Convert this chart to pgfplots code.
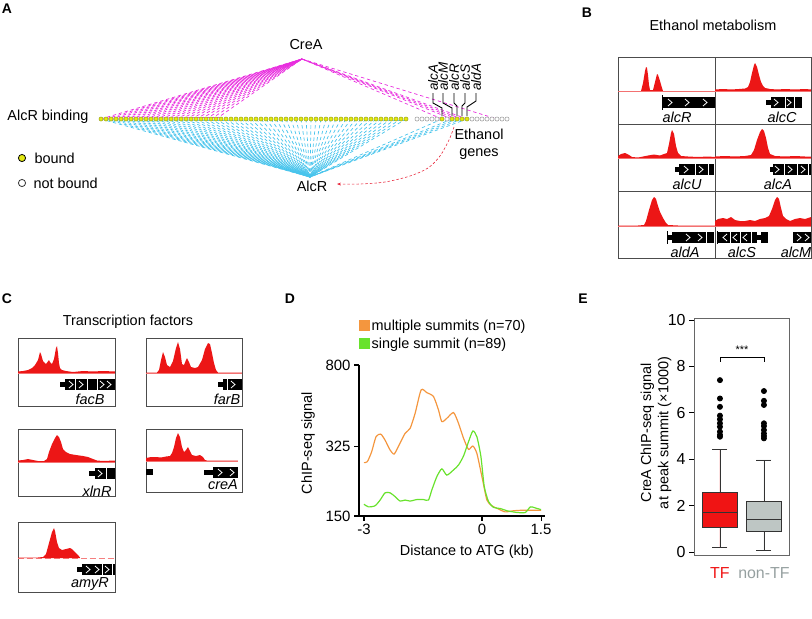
\documentclass[border=0pt]{standalone}
\usepackage{pgfplots}
\pgfplotsset{compat=1.18}
\usepackage{pgfplotstable}
\usepgfplotslibrary{statistics}
\usetikzlibrary{arrows.meta}
\usepackage{fontspec}
\setmainfont{Liberation Sans}

\definecolor{magA}{RGB}{232,45,222}
\definecolor{cyA}{RGB}{72,196,236}
\definecolor{yelA}{RGB}{226,232,18}
\definecolor{yelB}{RGB}{140,150,20}
\definecolor{trk}{RGB}{236,22,22}
\definecolor{arrR}{RGB}{232,40,60}
\definecolor{orD}{RGB}{244,150,62}
\definecolor{grD}{RGB}{104,226,44}
\definecolor{tfred}{RGB}{240,20,20}
\definecolor{ntgray}{RGB}{190,198,196}
\definecolor{ntlab}{RGB}{150,160,160}

\newcommand{\fs}{\fontsize{14.5}{17.5}\selectfont}
\pgfplotsset{
  every axis/.append style={font=\fs},
  /pgf/number format/assume math mode=true,
  trk/.style={anchor=north west, scale only axis, xmin=0, ticks=none,
    axis line style={draw=black!70, line width=0.8pt}, clip=false},
  spoke/.style={line width=0.7pt, dash pattern=on 3.4pt off 2.8pt},
}
% gene model pieces (local track units, baseline of the signal at y=0)
\newcommand{\gbox}[2]{\addplot[fill=black, draw=none] coordinates {(#1,-6)(#2,-6)(#2,-17)(#1,-17)} -- cycle;}
\newcommand{\gthin}[2]{\addplot[fill=black, draw=none] coordinates {(#1,-9)(#2,-9)(#2,-14)(#1,-14)} -- cycle;}
\newcommand{\chev}[2]{\addplot[white, line width=0.8pt] coordinates {(#1,-8)(#2,-11.5)(#1,-15)};}
\newcommand{\rchev}[2]{\addplot[white, line width=0.8pt] coordinates {(#2,-8)(#1,-11.5)(#2,-15)};}
\newcommand{\gsep}[1]{\addplot[white, line width=0.7pt] coordinates {(#1,-6)(#1,-17)};}
\newcommand{\base}[1]{\addplot[trk!55, line width=0.5pt] coordinates {(0,0)(#1,0)};}
\newcommand{\glab}[2]{\node[rotate=90, anchor=west, inner sep=1pt, font=\itshape\fontsize{13.5}{15}\selectfont] at (axis cs:#1,92) {#2};}
\newcommand{\tname}[3]{\node[font=\fs\itshape] at (axis cs:#1,#2) {#3};}

% genes of panel A, in pixel units of the figure
\pgfplotstableread{
x y
101 119
106 119
111 119
116 119
121 119
126 119
131 119
136 119
141 119
146 119
151 119
156 119
161 119
166 119
171 119
176 119
181 119
186 119
191 119
196 119
201 119
206 119
211 119
216 119
221 119
226 119
231 119
236 119
241 119
246 119
251 119
256 119
261 119
266 119
271 119
276 119
281 119
286 119
291 119
296 119
301 119
306 119
311 119
316 119
321 119
326 119
331 119
336 119
341 119
346 119
351 119
356 119
361 119
366 119
371 119
376 119
381 119
386 119
391 119
396 119
401 119
406 119
}\genesL
\pgfplotstableread{
x y
442 119
452 119
457 119
462 119
467 119
}\genesE
\pgfplotstableread{
x y
417 119
422 119
427 119
432 119
437 119
447 119
472 119
477 119
482 119
487 119
492 119
497 119
502 119
507 119
}\genesU

\begin{document}
\begin{tikzpicture}
\useasboundingbox (0,0) rectangle (812bp,-619bp);

% ---------- canvas: panel A and the headings ----------
\begin{axis}[at={(0bp,0bp)}, anchor=north west, scale only axis,
  width=812bp, height=619bp, xmin=0, xmax=812, ymin=0, ymax=619,
  y dir=reverse, hide axis, clip=false]
\addplot[magA, spoke, quiver={u={302-x}, v={59-y}}, restrict x to domain=100:217] table {\genesL};
\addplot[magA, spoke, quiver={u={302-x}, v={59-y}}] table {\genesE};
\addplot[magA, spoke] coordinates {(302,59)(497,119)};
\addplot[cyA, spoke, quiver={u={310-x}, v={177-y}}] table {\genesL};
\addplot[cyA, spoke, quiver={u={310-x}, v={177-y}}] table {\genesE};
\addplot[arrR, line width=0.6pt, dash pattern=on 2.5pt off 2pt, smooth, -{Stealth[length=4pt,width=3pt]}]
  coordinates {(454,127)(449,140)(440,156)(428,168)(410,176)(385,182)(360,184)(337,184)};
\addplot[only marks, mark=*, mark size=2.1pt, mark options={fill=white, draw=gray, line width=0.4pt}] table {\genesU};
\addplot[only marks, mark=*, mark size=2.1pt, mark options={fill=yelA, draw=yelB, line width=0.4pt}] table {\genesL};
\addplot[only marks, mark=*, mark size=2.1pt, mark options={fill=yelA, draw=yelB, line width=0.4pt}] table {\genesE};
% leaders of the ethanol genes
\addplot[black, line width=0.9pt] coordinates {(433,93)(433,103)(442,108)(442,116)};
\addplot[black, line width=0.9pt] coordinates {(443,93)(443,103)(452,108)(452,116)};
\addplot[black, line width=0.9pt] coordinates {(454,93)(454,103)(457,106)(457,116)};
\addplot[black, line width=0.9pt] coordinates {(465,93)(465,103)(462,106)(462,116)};
\addplot[black, line width=0.9pt] coordinates {(476,93)(476,101)(467,107)(467,116)};
% legend of panel A
\addplot[only marks, mark=*, mark size=3.6pt, mark options={fill=yelA, draw=black, line width=0.8pt}] coordinates {(22,158)};
\addplot[only marks, mark=*, mark size=3.6pt, mark options={fill=white, draw=black!80, line width=0.8pt}] coordinates {(22,183)};

\node[font=\bfseries\fontsize{14}{16}\selectfont] at (axis cs:7,9) {A};
\node at (axis cs:306,45) {CreA};
\node at (axis cs:48,117) {AlcR binding};
\node[anchor=west] at (axis cs:31,158) {bound};
\node[anchor=west] at (axis cs:30,183) {not bound};
\node at (axis cs:312,186) {AlcR};
\node[align=center, inner sep=0pt] at (axis cs:479,144) {Ethanol\\genes};
\glab{433}{alcA}
\glab{443}{alcM}
\glab{454}{alcR}
\glab{465}{alcS}
\glab{476}{aldA}

\node[font=\bfseries\fontsize{14}{16}\selectfont] at (axis cs:587,13) {B};
\node at (axis cs:713,25) {Ethanol metabolism};
\node[font=\bfseries\fontsize{14}{16}\selectfont] at (axis cs:7,299) {C};
\node at (axis cs:128,322) {Transcription factors};
\node[font=\bfseries\fontsize{14}{16}\selectfont] at (axis cs:290,299) {D};
\node[font=\bfseries\fontsize{14}{16}\selectfont] at (axis cs:583,299) {E};
\end{axis}

% ---------- panel B ----------
\begin{axis}[trk, at={(618bp,-57bp)}, width=97bp, height=67bp, xmax=97, ymin=-33, ymax=34]
\base{97}
\addplot[draw=none, fill=trk] coordinates {(0,0)(23,0)(25,8)(27,20)(28,24)(29,23)(30,16)(31,6)(32,1)(35,1)(36,5)(38,13)(39,17)(40,16)(42,10)(44,3)(45,0)(97,0)} -- cycle;
\addplot[black, line width=0.8pt] coordinates {(44,-4)(44,-19)};
\gbox{45}{97}\chev{50}{54}\chev{67}{71}\chev{85}{89}
\tname{59}{-26}{alcR}
\end{axis}
\begin{axis}[trk, at={(715bp,-57bp)}, width=96bp, height=67bp, xmax=96, ymin=-33, ymax=34]
\base{96}
\addplot[draw=none, fill=trk] coordinates {(0,0)(0,1.5)(8,2)(16,1.5)(24,2)(30,2.5)(33,4)(35,9)(37,18)(39,26)(40,28)(42,24)(44,16)(46,9)(48,5)(50,3)(55,2)(62,1.5)(70,2)(80,1.5)(90,2)(96,1.5)(96,0)} -- cycle;
\gthin{51}{56}\gbox{56}{87}\chev{59}{63}\gsep{70}\chev{72}{76}\gsep{79}
\tname{67}{-26}{alcC}
\end{axis}
\begin{axis}[trk, at={(618bp,-124bp)}, width=97bp, height=67bp, xmax=97, ymin=-33, ymax=34]
\base{97}
\addplot[draw=none, fill=trk] coordinates {(0,0)(0,2)(3,4)(7,5)(11,3)(14,1)(20,0.5)(25,1.5)(30,2.5)(36,3.5)(42,2.5)(46,4)(49,5)(51,14)(53,25)(54,28)(56,24)(58,12)(60,5)(63,2)(70,1.5)(80,1)(90,1.5)(97,1)(97,0)} -- cycle;
\gthin{57}{61}\gbox{61}{96}\chev{66}{70}\gsep{77}\chev{81}{85}\gsep{90}
\tname{69}{-26}{alcU}
\end{axis}
\begin{axis}[trk, at={(715bp,-124bp)}, width=96bp, height=67bp, xmax=96, ymin=-33, ymax=34]
\base{96}
\addplot[draw=none, fill=trk] coordinates {(0,0)(0,1.5)(10,2)(20,1.5)(30,2)(36,3)(39,8)(42,18)(45,26)(47,29)(49,27)(51,20)(53,10)(55,4)(60,2)(70,1.5)(80,2)(90,1.5)(96,1.5)(96,0)} -- cycle;
\gthin{55}{58}\gbox{58}{96}\chev{60}{64}\gsep{69}\chev{73}{77}\gsep{82}\chev{86}{90}\gsep{93}
\tname{63}{-26}{alcA}
\end{axis}
\begin{axis}[trk, at={(618bp,-191bp)}, width=97bp, height=67bp, xmax=97, ymin=-32, ymax=35]
\base{97}
\addplot[draw=none, fill=trk] coordinates {(0,0)(0,0.5)(20,0.5)(26,1)(28,5)(31,16)(34,26)(36,29)(38,27)(40,20)(42,14)(45,8)(48,3)(50,1)(60,0.5)(97,0.5)(97,0)} -- cycle;
\addplot[black, line width=0.8pt] coordinates {(49,-5)(49,-18)};
\gthin{49}{54}\gbox{54}{96}\chev{68}{72}\chev{80}{84}\gsep{88}
\tname{67}{-26}{aldA}
\end{axis}
\begin{axis}[trk, at={(715bp,-191bp)}, width=96bp, height=67bp, xmax=96, ymin=-32, ymax=35]
\base{96}
\addplot[draw=none, fill=trk] coordinates {(0,0)(0,5)(3,7)(8,8)(12,7)(16,9)(20,6)(25,5)(30,5)(35,6)(40,5)(45,7)(50,8)(54,10)(57,17)(60,26)(62,29)(64,27)(66,18)(68,10)(71,7)(75,5)(80,7)(85,8)(90,7)(96,9)(96,0)} -- cycle;
\addplot[black, line width=0.8pt] coordinates {(2,-5)(2,-18)};
\gbox{3}{42}\rchev{8}{12}\gsep{15}\rchev{18}{22}\gsep{25}\rchev{28}{32}\gsep{36}
\gthin{42}{46}\gbox{46}{53}\gbox{78}{96}\chev{82}{86}\chev{90}{94}
\tname{27}{-26}{alcS}
\tname{81}{-26}{alcM}
\end{axis}

% ---------- panel C ----------
\begin{axis}[trk, at={(18bp,-338bp)}, width=97bp, height=68bp, xmax=97, ymin=-33, ymax=35]
\base{97}
\addplot[draw=none, fill=trk] coordinates {(0,0)(0,1.5)(5,2)(10,3)(14,5)(17,8)(20,13)(22,21)(23,19)(25,12)(28,9)(31,13)(32,11)(34,9)(36,14)(38,25)(39,27)(40,20)(41,10)(42,5)(44,3)(48,2)(55,1)(65,2)(75,1.5)(85,2)(97,1.5)(97,0)} -- cycle;
\gthin{42}{47}\gbox{47}{97}\chev{51}{55}\gsep{57}\chev{61}{65}\gsep{69}\gsep{79}\chev{82}{86}\chev{89}{93}
\tname{72}{-26}{facB}
\end{axis}
\begin{axis}[trk, at={(146bp,-338bp)}, width=96bp, height=68bp, xmax=96, ymin=-33, ymax=35]
\base{96}
\addplot[draw=none, fill=trk] coordinates {(0,0)(0,0.5)(11,0.5)(13,3)(15,13)(17,21)(19,16)(21,8)(24,6)(27,12)(30,25)(32,31)(34,24)(36,9)(38,8)(40,13)(41,15)(43,11)(45,6)(49,5)(52,6)(56,13)(59,24)(62,30)(64,29)(66,20)(68,10)(70,3)(72,0.5)(96,0.5)(96,0)} -- cycle;
\gthin{72}{77}\gbox{77}{96}\gsep{81}\chev{85}{89}
\tname{81}{-26}{farB}
\end{axis}
\begin{axis}[trk, at={(18bp,-429bp)}, width=97bp, height=67bp, xmax=97, ymin=-34, ymax=33]
\base{97}
\addplot[draw=none, fill=trk] coordinates {(0,0)(0,1.5)(5,2)(10,3)(15,2)(20,1)(26,1)(29,3)(31,10)(34,18)(37,24)(39,27)(41,25)(43,20)(45,13)(48,10)(52,8)(58,7)(65,6)(70,5)(75,3)(79,1.5)(85,1)(97,1.5)(97,0)} -- cycle;
\gthin{71}{77}\gbox{77}{97}\chev{80}{84}\gsep{88}
\tname{79}{-29}{xlnR}
\end{axis}
\begin{axis}[trk, at={(146bp,-429bp)}, width=96bp, height=63bp, xmax=96, ymin=-31, ymax=32]
\base{92}
\addplot[draw=none, fill=trk] coordinates {(0,0)(0,3)(5,4)(10,4)(15,3.5)(20,4.5)(24,5)(26,8)(28,14)(30,23)(32,28)(34,24)(36,14)(38,9)(40,11)(42,14)(44,10)(46,6)(50,5)(54,6)(57,4)(59,1)(61,0.5)(92,0.5)(92,0)} -- cycle;
\addplot[fill=black, draw=none] coordinates {(0,-8)(7,-8)(7,-14)(0,-14)} -- cycle;
\gthin{58}{67}\gbox{67}{92}\chev{72}{76}\chev{84}{88}
\tname{77}{-24}{creA}
\end{axis}
\begin{axis}[trk, at={(18bp,-522bp)}, width=97bp, height=70bp, xmax=97, ymin=-34, ymax=36]
\addplot[trk!55, line width=0.5pt, dash pattern=on 6pt off 3pt] coordinates {(0,0)(97,0)};
\addplot[draw=none, fill=trk] coordinates {(0,0)(0,0.5)(20,0.5)(25,1)(28,4)(31,15)(34,26)(36,30)(37,27)(39,16)(41,10)(44,8)(48,9)(52,10)(54,9)(57,6)(60,3)(62,0.5)(62,0)} -- cycle;
\gthin{59}{64}\gbox{64}{97}\chev{68}{72}\chev{77}{81}\gsep{84}\chev{87}{91}\gsep{94}
\tname{72}{-26}{amyR}
\end{axis}

% ---------- panel D ----------
\begin{axis}[at={(359bp,-365bp)}, anchor=north west, scale only axis,
  width=186bp, height=151bp, xmin=-3.127, xmax=1.6, ymin=150, ymax=800,
  ymode=log, axis x line*=bottom, axis y line*=left,
  axis line style={-, black, line width=1.1pt},
  tick align=outside, major tick length=5bp, tick style={black, line width=1.1pt},
  xtick={-3,0,1.5}, xticklabels={-3,0,1.5},
  ytick={150,325,800}, yticklabels={150,325,800}, yminorticks=false,
  tick label style={font=\fontsize{15}{17}\selectfont},
  xlabel={Distance to ATG (kb)}, ylabel={ChIP-seq signal},
  every axis x label/.style={at={(axis description cs:0.58,-0.238)}, anchor=center},
  every axis y label/.style={at={(axis description cs:-0.274,0.483)}, rotate=90, anchor=center},
  legend style={draw=none, fill=none, at={(axis description cs:0.0,1.31)}, anchor=north west,
    row sep=3bp, inner sep=0pt, nodes={inner sep=1.5bp}},
  legend cell align=left,
  legend image code/.code={\fill[#1, draw=none] (0bp,-5.5bp) rectangle (11bp,5.5bp);},
  clip=false]
\addplot[orD, line width=1.2pt, smooth, tension=0.4] coordinates {
  (-3.000,271) (-2.915,274) (-2.805,306) (-2.695,361) (-2.576,372) (-2.465,348)
  (-2.338,312) (-2.236,298) (-2.126,324) (-1.956,375) (-1.829,396) (-1.701,468)
  (-1.548,607) (-1.404,589) (-1.234,564) (-1.107,486) (-1.022,427) (-0.895,443)
  (-0.725,472) (-0.598,419) (-0.470,355) (-0.343,314) (-0.233,326) (-0.131,300)
  (-0.003,232) (0.124,179) (0.251,168) (0.421,162) (0.591,157) (0.803,159)
  (1.058,160) (1.312,160) (1.499,160)};
\addlegendentry{multiple summits (n=70)}
\addplot[grD, line width=1.2pt, smooth, tension=0.4] coordinates {
  (-3.000,171) (-2.890,166) (-2.720,168) (-2.590,179) (-2.465,194) (-2.338,194)
  (-2.210,186) (-2.083,177) (-1.956,179) (-1.829,177) (-1.659,180) (-1.489,180)
  (-1.362,179) (-1.277,200) (-1.149,232) (-1.022,253) (-0.895,236) (-0.725,250)
  (-0.598,264) (-0.470,292) (-0.343,342) (-0.233,385) (-0.131,361) (-0.029,290)
  (0.056,208) (0.166,176) (0.294,165) (0.463,163) (0.633,159) (0.888,156)
  (1.100,156) (1.228,166) (1.355,164) (1.499,161)};
\addlegendentry{single summit (n=89)}
\end{axis}

% ---------- panel E ----------
\begin{axis}[at={(694bp,-318bp)}, anchor=north west, scale only axis,
  width=95bp, height=237bp, xmin=0.41, xmax=2.57, ymin=-0.13, ymax=10.09,
  axis line style={draw=black!60, line width=0.9pt},
  xtick={1,2}, xticklabels={\textcolor{tfred}{TF},\textcolor{ntlab}{non-TF}},
  xtick style={draw=none}, xticklabel style={yshift=-4bp},
  ytick={0,2,4,6,8,10}, tick align=outside, major tick length=5bp,
  ytick style={black, line width=0.9pt}, ytick pos=left,
  tick label style={font=\fontsize{16}{18}\selectfont},
  ylabel={CreA ChIP-seq signal\\at peak summit (×1000)},
  every axis y label/.style={at={(axis description cs:-0.40,0.515)}, rotate=90, anchor=center, align=center},
  boxplot/draw direction=y,
  boxplot/box extend=0.8, boxplot/whisker extend=0.34,
  boxplot/draw/.code={%
    \draw[dash pattern=on 2.5pt off 2pt, black!55, line width=0.7pt, fill=none]
      (boxplot whisker cs:\pgfplotsboxplotvalue{lower whisker},0.5) -- (boxplot box cs:\pgfplotsboxplotvalue{lower quartile},0.5)
      (boxplot box cs:\pgfplotsboxplotvalue{upper quartile},0.5) -- (boxplot whisker cs:\pgfplotsboxplotvalue{upper whisker},0.5);
    \draw[solid, black!80, line width=0.8pt, fill=none]
      (boxplot whisker cs:\pgfplotsboxplotvalue{lower whisker},0) -- (boxplot whisker cs:\pgfplotsboxplotvalue{lower whisker},1)
      (boxplot whisker cs:\pgfplotsboxplotvalue{upper whisker},0) -- (boxplot whisker cs:\pgfplotsboxplotvalue{upper whisker},1);
    \draw[/pgfplots/boxplot/every box/.try] (boxplot box cs:\pgfplotsboxplotvalue{lower quartile},0) rectangle (boxplot box cs:\pgfplotsboxplotvalue{upper quartile},1);
    \draw[solid, black, line width=2.8pt, fill=none] (boxplot box cs:\pgfplotsboxplotvalue{median},0) -- (boxplot box cs:\pgfplotsboxplotvalue{median},1);
  },
  clip=false]
\addplot[boxplot prepared={lower whisker=0.2, lower quartile=1.06, median=1.70,
    upper quartile=2.56, upper whisker=4.41, draw position=1},
  fill=tfred, draw=black!80, line width=0.7pt, mark=*, mark size=2.6pt,
  mark options={fill=black, draw=black, solid}]
  table[row sep=\\, y index=0, header=false] {7.41\\6.62\\6.26\\5.88\\5.72\\5.55\\5.40\\5.19\\5.05\\4.97\\};
\addplot[boxplot prepared={lower whisker=0.06, lower quartile=0.88, median=1.42,
    upper quartile=2.17, upper whisker=3.97, draw position=2},
  fill=ntgray, draw=black!80, line width=0.7pt, mark=*, mark size=2.6pt,
  mark options={fill=black, draw=black, solid}]
  table[row sep=\\, y index=0, header=false] {6.94\\6.52\\6.34\\5.55\\5.43\\5.26\\5.11\\5.00\\4.90\\};
\addplot[black, line width=0.6pt] coordinates {(1,8.2)(1,8.39)(2,8.39)(2,8.2)};
\node[font=\fontsize{11}{12}\selectfont] at (axis cs:1.5,8.72) {***};
\end{axis}
\end{tikzpicture}
\end{document}
